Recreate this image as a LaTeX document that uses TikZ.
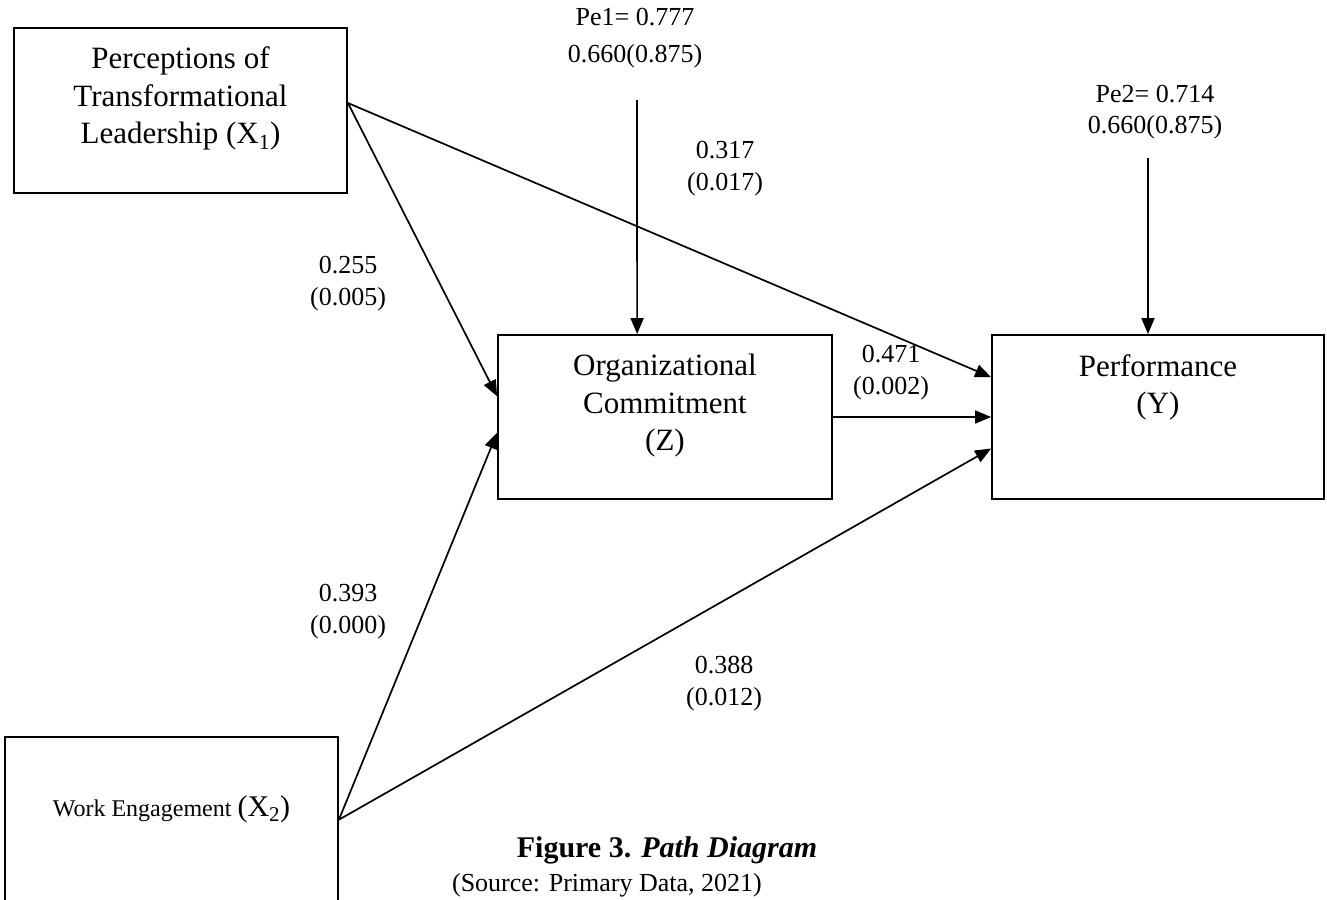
\documentclass[tikz,border=0pt]{standalone}
\usepackage{fontspec}
\setmainfont{Liberation Serif}
\usetikzlibrary{arrows.meta,calc}
\begin{document}
\begin{tikzpicture}[x=1pt,y=-1pt,
  box/.style={draw, line width=1.8pt, inner sep=0pt},
  boxtext/.style={font=\fontsize{31}{37.5}\selectfont, align=center, anchor=north, inner sep=0pt},
  lbl/.style={font=\fontsize{26}{32}\selectfont, align=center, inner sep=0pt},
  arr/.style={line width=1.7pt, -{Triangle[length=16pt,width=13pt]}}]
\useasboundingbox (0,0) rectangle (1327,899);
\fill[white] (0,0) rectangle (1327,899);
\clip (0,0) rectangle (1327,899);

% boxes
\node[box, minimum width=333pt, minimum height=165pt] (x1) at (180.5,110.5) {};
\node[box, minimum width=334pt, minimum height=164pt] (z) at (665,417) {};
\node[box, minimum width=332pt, minimum height=164pt] (y) at (1158,417) {};
\node[box, minimum width=333pt, minimum height=223pt] (x2) at (171.5,848.5) {};

% box texts
\node[boxtext] (x1t) at (180.5,46.5) {Perceptions of\\Transformational\\Leadership (X\textsubscript{1})};
\node[boxtext] (zt) at (665,354) {Organizational\\Commitment\\(Z)};
\node[boxtext] (yt) at (1158,354) {Performance\\(Y)};
\node[font=\fontsize{24}{28}\selectfont, inner sep=0pt, anchor=base] (x2t) at (171.5,816) {Work Engagement {\fontsize{30}{36}\selectfont(X\textsubscript{2})}};

% connector ends
\coordinate (x1o) at ($(x1.north east)!0.455!(x1.south east)$);
\coordinate (x2o) at ($(x2.north east)!0.372!(x2.south east)$);
\coordinate (z1) at ($(z.north west)!0.375!(z.south west)$);
\coordinate (z2) at ($(z.north west)!0.595!(z.south west)$);
\coordinate (ztop) at ($(z.north west)!0.417!(z.north east)$);
\coordinate (y1) at ($(y.north west)!0.26!(y.south west)$);
\coordinate (y3) at ($(y.north west)!0.69!(y.south west)$);
\coordinate (ytop) at ($(y.north west)!0.47!(y.north east)$);
\coordinate (pe1s) at (637,100);
\coordinate (pe2s) at (1148,158);

% connectors
\draw[arr] (x1o) -- (z1);
\draw[arr] (x1o) -- (y1);
\draw[arr] (x2o) -- (z2);
\draw[arr] (x2o) -- (y3);
\draw[arr] (z.east) -- (y.west);
\draw[arr] (pe1s) -- (ztop);
\draw[arr] (pe2s) -- (ytop);

% labels
\node[lbl, font=\fontsize{26}{37}\selectfont] (pe1) at (635,38.5) {Pe1= 0.777\\0.660(0.875)};
\node[lbl, font=\fontsize{26}{31}\selectfont] (pe2) at (1155,112.5) {Pe2= 0.714\\0.660(0.875)};
\node[lbl] (l317) at (725,169) {0.317\\(0.017)};
\node[lbl] (l255) at (348,284) {0.255\\(0.005)};
\node[lbl] (l471) at (891,372.5) {0.471\\(0.002)};
\node[lbl] (l393) at (348,611.5) {0.393\\(0.000)};
\node[lbl] (l388) at (724,684) {0.388\\(0.012)};

% caption
\node[font=\fontsize{30}{36}\selectfont\bfseries, inner sep=0pt] (title) at (667,850) {Figure 3. \textit{Path Diagram}};
\node[font=\fontsize{26}{30}\selectfont, inner sep=0pt] (src) at (607,885) {(Source: Primary Data, 2021)};
\end{tikzpicture}
\end{document}
